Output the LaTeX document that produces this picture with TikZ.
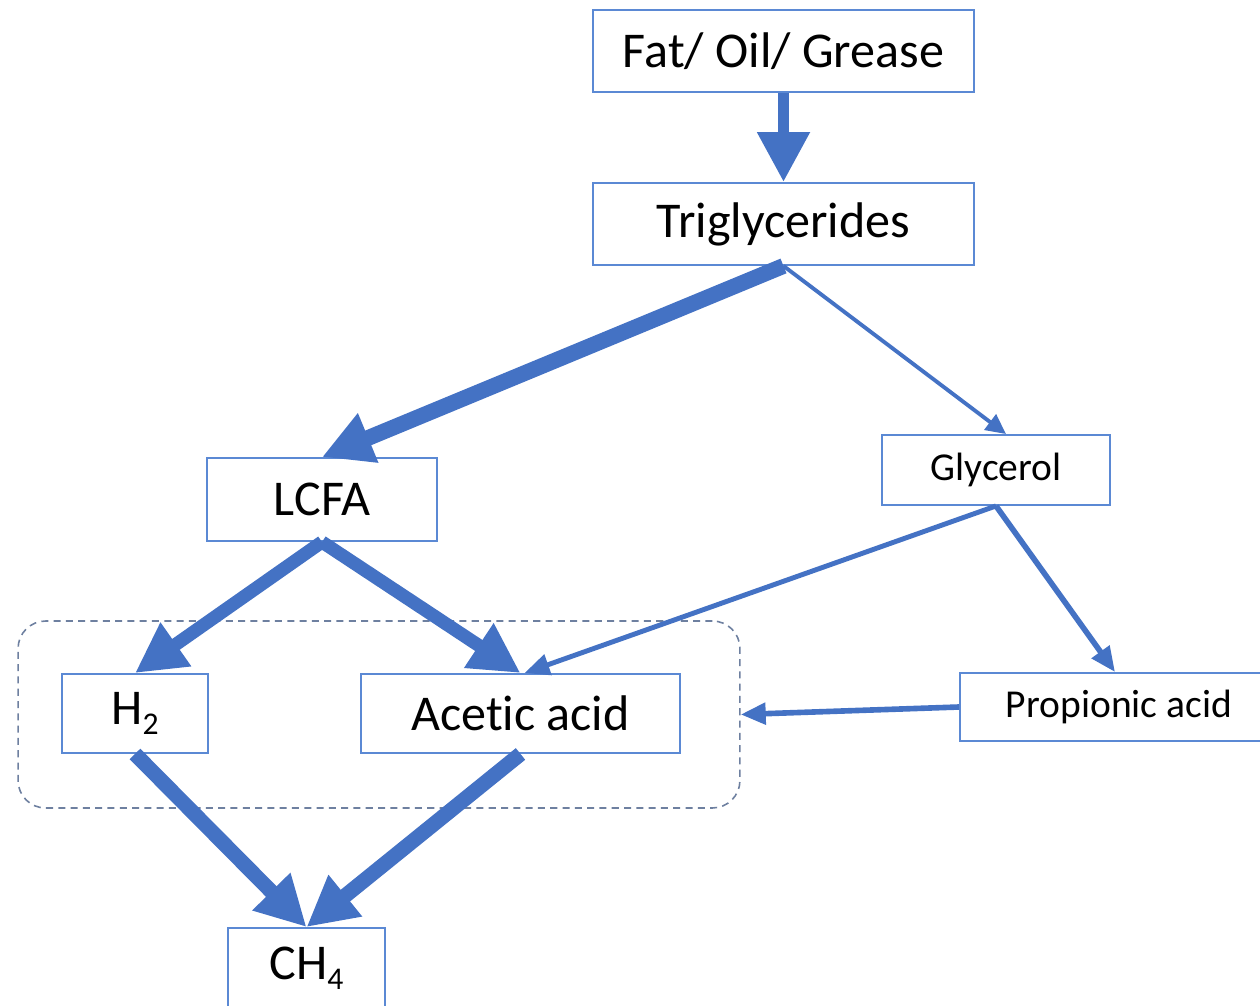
\documentclass[tikz,border=0pt]{standalone}
\usepackage{fontspec}
\setmainfont{Carlito}[Ligatures={NoCommon,NoRare,NoContextual}]
\usetikzlibrary{arrows.meta}
\definecolor{arrowblue}{RGB}{68,114,196}
\definecolor{boxblue}{RGB}{91,137,212}
\definecolor{dashgray}{RGB}{110,128,160}
\newcommand{\lowsub}[1]{\raisebox{-5.5pt}{\fontsize{18}{18}\selectfont #1}}
\begin{document}
\begin{tikzpicture}[x=0.02cm,y=-0.02cm,
  box/.style={draw=boxblue,line width=1.1pt,fill=white,inner sep=0pt,text=black},
  bigtext/.style={font=\fontsize{28.5}{30}\selectfont},
  smalltext/.style={font=\fontsize{22.5}{24}\selectfont},
  bigarrow/.style={draw=arrowblue,line width=8.5pt,-{Triangle[length=1.0cm,width=1.0cm]}},
  midarrow/.style={draw=arrowblue,line width=3.2pt,-{Triangle[length=0.5cm,width=0.42cm]}},
  thinarrow/.style={draw=arrowblue,line width=2.2pt,-{Triangle[length=0.4cm,width=0.38cm]}},
  group/.style={draw=dashgray,line width=0.9pt,dash pattern=on 4pt off 3pt,rounded corners=0.55cm,inner sep=0pt}]
\useasboundingbox (0,0) rectangle (1260,1006);
\node[group,minimum width=14.44cm,minimum height=3.74cm] (grp) at (379,714.5) {};
\node[box,bigtext,minimum width=7.62cm,minimum height=1.64cm] (fat) at (783.5,51) {Fat/ Oil/ Grease};
\node[box,bigtext,minimum width=7.62cm,minimum height=1.64cm] (trig) at (783.5,224) {Triglycerides};
\node[box,bigtext,minimum width=4.6cm,minimum height=1.66cm] (lcfa) at (322,499.5) {LCFA};
\node[box,smalltext,minimum width=4.56cm,minimum height=1.4cm] (gly) at (996,470) {Glycerol};
\node[box,smalltext,minimum width=6.36cm,minimum height=1.36cm] (prop) at (1119,707) {Propionic acid};
\node[box,bigtext,minimum width=2.92cm,minimum height=1.58cm] (h2) at (135,713.5) {H\lowsub{2}};
\node[box,bigtext,minimum width=6.38cm,minimum height=1.58cm] (ace) at (520.5,713.5) {Acet\kern0pt ic acid};
\node[box,bigtext,minimum width=3.14cm,minimum height=1.6cm] (ch4) at (306.5,968) {CH\lowsub{4}};
\draw[bigarrow,line width=6.5pt] (fat.south) -- (trig.north);
\draw[bigarrow,line width=9pt] (trig.south) -- (lcfa.north);
\draw[thinarrow] (trig.south) -- ([xshift=0.2cm]gly.north);
\draw[bigarrow,line width=7.5pt] (lcfa.south) -- (h2.north);
\draw[bigarrow,line width=7.5pt] (lcfa.south) -- (ace.north);
\draw[midarrow,line width=2.8pt] (gly.south) -- ([xshift=0.08cm]ace.north);
\draw[midarrow] (gly.south) -- ([xshift=-0.08cm]prop.north);
\draw[midarrow] (prop.west) -- (grp.east);
\draw[bigarrow] (h2.south) -- (ch4.north);
\draw[bigarrow] (ace.south) -- (ch4.north);
\end{tikzpicture}
\end{document}
